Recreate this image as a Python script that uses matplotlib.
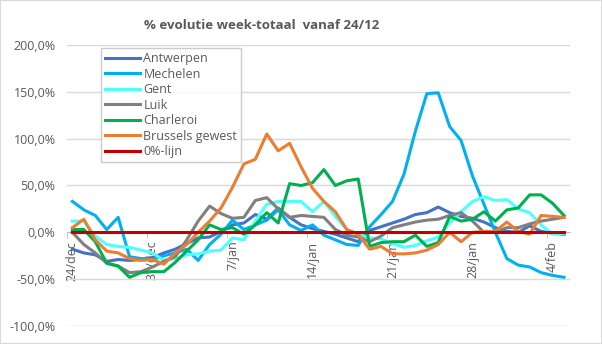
import matplotlib.pyplot as plt
import numpy as np
from matplotlib.patches import Rectangle
from matplotlib.ticker import FuncFormatter

plt.rcParams['font.family'] = ['Open Sans', 'DejaVu Sans']

# dagelijkse % evolutie van het week-totaal, 24/dec t/m 5/feb
tick_labels = ['24/dec', '31/dec', '7/jan', '14/jan', '21/jan', '28/jan', '4/feb']

antwerpen = [-18, -22, -24, -31, -29, -30, -29, -27, -22, -18, -12, -6, -5, 1, 8,
             10, 19, 14, 26, 16, 8, 4, 1, -2, -6, -10, 2, 6, 10, 14, 19, 21, 27,
             21, 17, 15, 11, 5, 1, 0, 7, 1, -1, -2]
mechelen = [33, 24, 18, 3, 16, -26, -28, -29, -25, -22, -18, -30, -13, -2, 13,
            3, 8, 13, 24, 8, 2, 8, -3, -8, -13, -14, 6, 19, 33, 62, 108, 148, 149,
            113, 98, 60, 30, 0, -28, -35, -37, -43, -46, -48]
gent = [12, 12, -4, -13, -15, -16, -19, -22, -30, -28, -24, -23, -20, -19, -6,
        -8, 12, 30, 33, 33, 33, 22, 33, 17, 3, -2, -6, -7, -12, -16, -14, -9, -5,
        10, 22, 33, 38, 34, 35, 25, 21, 8, -2, -1]
luik = [0, -13, -22, -33, -36, -43, -42, -37, -31, -26, -8, 12, 28, 20, 15, 16,
        34, 37, 25, 16, 18, 17, 16, 3, -3, -5, -10, -4, 5, 8, 11, 13, 14, 18, 21,
        12, 0, 0, 5, 5, 9, 12, 14, 16]
charleroi = [3, 3, -10, -33, -36, -48, -43, -42, -42, -32, -20, -8, 8, 3, 5, -2,
             8, 21, 10, 52, 50, 53, 67, 50, 55, 57, -15, -11, -10, -10, -3, -15,
             -11, 17, 12, 14, 22, 12, 24, 26, 40, 40, 31, 18]
brussel = [5, 14, -8, -20, -22, -28, -30, -29, -34, -22, -13, 0, 12, 26, 48, 73,
           78, 105, 87, 95, 70, 47, 33, 22, 3, -2, -18, -15, -23, -23, -22, -19,
           -13, 0, -10, 0, 1, 1, 11, 1, -2, 18, 17, 16]
nullijn = [0] * 44

series = [
    ('Antwerpen', antwerpen, '#4472C4'),
    ('Mechelen', mechelen, '#00B0F0'),
    ('Gent', gent, '#4DFFFF'),
    ('Luik', luik, '#808080'),
    ('Charleroi', charleroi, '#00B050'),
    ('Brussels gewest', brussel, '#ED7D31'),
    ('0%-lijn', nullijn, '#C00000'),
]

fig = plt.figure(figsize=(6.02, 3.44), dpi=100)
ax = fig.add_axes([66.7 / 602, 18 / 344, 503 / 602, 281 / 344])

x = np.arange(44)
for i, (name, vals, col) in enumerate(series):
    ax.plot(x, vals, color=col, lw=2.2, label=name, zorder=3 + i * 0.1)

ax.set_xlim(-0.5, 43.5)
ax.set_ylim(-100, 200)
ax.set_yticks(np.arange(-100, 201, 50))
ax.yaxis.set_major_formatter(FuncFormatter(lambda v, p: f'{v:.1f}%'.replace('.', ',')))
ax.grid(axis='y', color='#D9D9D9', lw=1)
ax.set_axisbelow(True)

for s in ['top', 'right', 'left']:
    ax.spines[s].set_visible(False)
ax.spines['bottom'].set_position(('data', 0))
ax.spines['bottom'].set_color('#BFBFBF')
ax.spines['bottom'].set_zorder(1)

ax.set_xticks(range(0, 44, 7))
ax.set_xticklabels(tick_labels, rotation=90)
ax.set_xticks(np.arange(-0.5, 44, 7), minor=True)
ax.tick_params(axis='x', which='major', length=0, pad=6, labelsize=9, labelcolor='#595959')
ax.tick_params(axis='x', which='minor', length=4, color='#BFBFBF')
ax.tick_params(axis='y', length=0, pad=8, labelsize=9, labelcolor='#595959')

leg = ax.legend(loc='upper left', bbox_to_anchor=(0.068, 0.988), borderaxespad=0,
                fontsize=9, frameon=True, fancybox=False, handlelength=2.8,
                labelspacing=0.2, handletextpad=0.3, borderpad=0.3)
leg.set_zorder(10)
leg.get_frame().set_edgecolor('#BFBFBF')
leg.get_frame().set_linewidth(1)
for t in leg.get_texts():
    t.set_color('#595959')

fig.text(0.435, 0.925, '% evolutie week-totaal  vanaf 24/12', ha='center', va='center',
         fontsize=9.5, fontweight='bold', color='#595959')

fig.patches.append(Rectangle((0, 0), 1, 1, transform=fig.transFigure, fill=False,
                             edgecolor='#D9D9D9', lw=1.5))

fig.savefig('out.png', dpi=100)
